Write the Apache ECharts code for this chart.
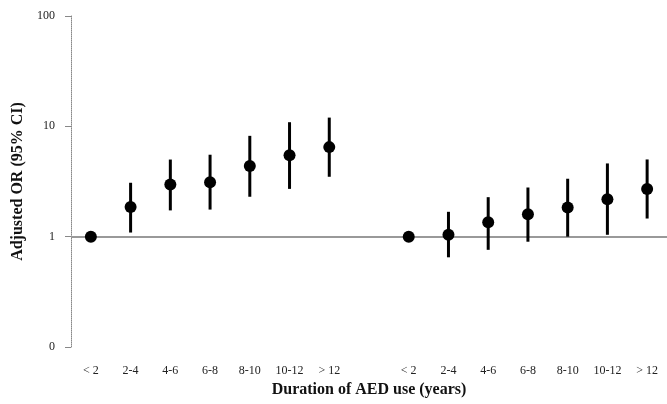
<!DOCTYPE html>
<html><head><meta charset="utf-8">
<script src="https://cdn.jsdelivr.net/npm/echarts@6/dist/echarts.min.js"></script>
<style>html,body{margin:0;padding:0;background:#fff}#c{width:667px;height:404px}</style>
</head><body><div id="c"></div>
<script>
var categories = ['< 2','2-4','4-6','6-8','8-10','10-12','> 12','','< 2','2-4','4-6','6-8','8-10','10-12','> 12'];
// index 7 is an empty spacer between the two groups
var or     = [1, 1.86, 2.97, 3.12, 4.36, 5.48, 6.48, null, 1, 1.04, 1.35, 1.60, 1.84, 2.18, 2.71];
var lower  = [null, 1.09, 1.73, 1.76, 2.30, 2.71, 3.49, null, null, 0.65, 0.76, 0.90, 1.00, 1.04, 1.46];
var upper  = [null, 3.08, 5.00, 5.53, 8.20, 10.9, 12.0, null, null, 1.68, 2.28, 2.79, 3.35, 4.61, 5.01];
var yTicks = [0.1, 1, 10, 100];
var yTickLabels = {0.1:'0', 1:'1', 10:'10', 100:'100'};

var pointData = [], barData = [];
for (var i = 0; i < categories.length; i++) {
  if (or[i] != null) pointData.push([i, or[i]]);
  if (lower[i] != null) barData.push([i, lower[i], upper[i]]);
}
var serif = '"Liberation Serif", "DejaVu Serif", serif';
var chart = echarts.init(document.getElementById('c'));
chart.setOption({
  animation: false,
  grid: {left: 71, top: 16, width: 598, bottom: 57},
  xAxis: {
    type: 'category', data: categories,
    axisLine: {show: false}, axisTick: {show: false},
    axisLabel: {interval: 0, margin: 18, fontFamily: serif, fontSize: 12, color: '#222'},
    name: 'Duration of AED use (years)', nameLocation: 'middle', nameGap: 35,
    nameTextStyle: {fontFamily: serif, fontSize: 16, fontWeight: 'bold', color: '#111'}
  },
  yAxis: {
    type: 'log', logBase: 10, min: 0.1, max: 100,
    axisLine: {show: true, lineStyle: {color: '#888', width: 1, type: 'dotted'}},
    axisTick: {show: true, inside: false, length: 6, lineStyle: {color: '#888'}},
    splitLine: {show: false},
    axisLabel: {fontFamily: serif, fontSize: 12, color: '#222', margin: 16,
      formatter: function (v) { var k = Math.round(v*10)/10; return yTickLabels[k] !== undefined ? yTickLabels[k] : ''; }},
    name: 'Adjusted OR (95% CI)', nameLocation: 'middle', nameGap: 44, nameRotate: 90,
    nameTextStyle: {fontFamily: serif, fontSize: 16, fontWeight: 'bold', color: '#111'}
  },
  series: [
    {
      type: 'custom', data: barData, z: 3,
      renderItem: function (params, api) {
        var lo = api.coord([api.value(0), api.value(1)]);
        var hi = api.coord([api.value(0), api.value(2)]);
        return {type: 'line', shape: {x1: lo[0], y1: lo[1], x2: hi[0], y2: hi[1]},
                style: {stroke: '#000', lineWidth: 3}};
      }
    },
    {
      type: 'scatter', data: pointData, symbol: 'circle', symbolSize: 12, z: 4,
      itemStyle: {color: '#000', opacity: 1},
      markLine: {
        silent: true, symbol: 'none', label: {show: false}, z: 1,
        lineStyle: {color: '#999', width: 2, type: 'solid'},
        data: [{yAxis: 1}]
      }
    }
  ]
});
</script></body></html>
